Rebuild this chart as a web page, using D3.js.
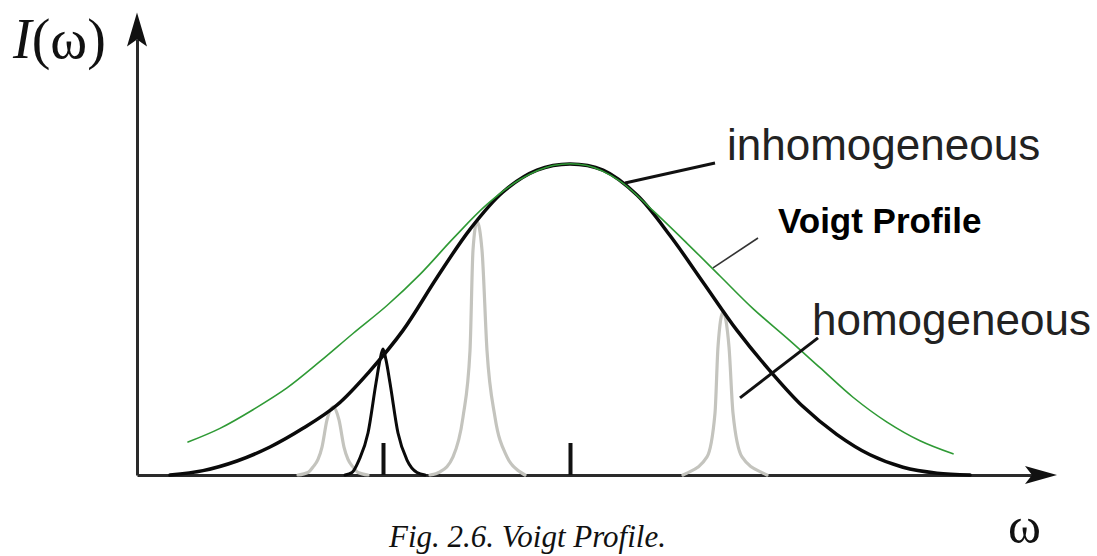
<!DOCTYPE html>
<html>
<head>
<meta charset="utf-8">
<script src="https://cdn.jsdelivr.net/npm/d3@7/dist/d3.min.js"></script>
<style>
body { margin: 0; background: #fff; }
.axis path.domain { stroke: #2a2a2a; stroke-width: 3; }
.x-axis .tick line { stroke: #111; stroke-width: 4; }
.arrow { fill: #111; }
.curve { fill: none; stroke-linejoin: round; stroke-linecap: round; }
.inhomogeneous { stroke: #0a0a0a; stroke-width: 3.5; }
.voigt { stroke: #2f9a35; stroke-width: 1.6; }
.lorentz-gray { stroke: #c4c4be; stroke-width: 3.2; }
.lorentz-black { stroke: #0a0a0a; stroke-width: 3; }
.leader { stroke: #111; stroke-width: 3; }
.leader.thin { stroke: #333; stroke-width: 1.6; }
.label { font-family: "Liberation Sans", Arial, sans-serif; font-size: 44px; fill: #222; }
.label.bold { font-weight: bold; font-size: 35px; fill: #000; }
.serif { font-family: "Liberation Serif", "Times New Roman", serif; fill: #111; }
</style>
</head>
<body>
<div id="chart"></div>
<script>
// omega offsets from line centre, intensity relative to peak
var inhomogeneous = [
  [-4.00, 0.000], [-3.67, 0.014], [-3.33, 0.045], [-3.00, 0.090], [-2.67, 0.150],
  [-2.33, 0.225], [-2.00, 0.335], [-1.67, 0.465], [-1.33, 0.635], [-1.00, 0.790],
  [-0.67, 0.910], [-0.33, 0.980], [0.00, 1.000], [0.33, 0.980], [0.67, 0.900],
  [1.00, 0.770], [1.33, 0.620], [1.67, 0.465], [2.00, 0.335], [2.33, 0.220],
  [2.67, 0.130], [3.00, 0.065], [3.33, 0.025], [3.67, 0.006], [4.00, 0.000]
];

var voigt = [
  [-3.82, 0.106], [-3.50, 0.150], [-3.17, 0.210], [-2.83, 0.280], [-2.50, 0.365],
  [-2.17, 0.455], [-1.83, 0.545], [-1.50, 0.645], [-1.17, 0.760], [-0.83, 0.870],
  [-0.50, 0.950], [-0.17, 0.995], [0.17, 0.995], [0.50, 0.945], [0.83, 0.850],
  [1.17, 0.745], [1.50, 0.640], [1.83, 0.535], [2.17, 0.440], [2.50, 0.345],
  [2.83, 0.250], [3.17, 0.170], [3.50, 0.110], [3.83, 0.068]
];

var lorentzA = [
  [-2.72, 0.000], [-2.62, 0.008], [-2.57, 0.026], [-2.52, 0.050], [-2.48, 0.090],
  [-2.43, 0.177], [-2.37, 0.219], [-2.31, 0.177], [-2.26, 0.090], [-2.22, 0.050],
  [-2.17, 0.026], [-2.12, 0.008], [-2.02, 0.000]
];

var lorentzB = [
  [-2.25, 0.000], [-2.18, 0.008], [-2.11, 0.048], [-2.02, 0.135], [-1.94, 0.296],
  [-1.90, 0.370], [-1.87, 0.405], [-1.84, 0.370], [-1.80, 0.296], [-1.72, 0.135],
  [-1.63, 0.048], [-1.53, 0.008], [-1.45, 0.000]
];

var lorentzC = [
  [-1.40, 0.000], [-1.30, 0.010], [-1.17, 0.058], [-1.07, 0.186], [-1.00, 0.400],
  [-0.97, 0.723], [-0.93, 0.815], [-0.88, 0.723], [-0.83, 0.400], [-0.75, 0.186],
  [-0.63, 0.058], [-0.50, 0.010], [-0.45, 0.000]
];

var lorentzD = [
  [1.13, 0.000], [1.17, 0.006], [1.37, 0.058], [1.45, 0.199], [1.48, 0.412],
  [1.53, 0.524], [1.59, 0.412], [1.63, 0.199], [1.72, 0.058], [1.93, 0.006],
  [1.97, 0.000]
];

var tickOmega = [-1.87, 0];

var labelText = ["inhomogeneous", "Voigt Profile", "homogeneous"];
var labelPos = [[1.57, 1.013], [2.08, 0.778], [2.42, 0.450]];
var leaderFrom = [[0.55, 0.939], [1.43, 0.666], [1.70, 0.248]];
var leaderTo = [[1.45, 1.003], [1.88, 0.762], [2.48, 0.441]];

var VoigtChart = function() {};

VoigtChart.prototype.create = function(el, options) {
    this.options = options;

    this.svg = d3.select(el).append('svg')
        .attr('width', options.width)
        .attr('height', options.height);

    this._setup();
    this._drawAxes();
    this._drawCurves();
    this._drawLabels();
    return this;
}

VoigtChart.prototype._setup = function() {
    this.x = d3.scaleLinear().domain([-4.33, 4.70]).range([137, 1040]);
    this.y = d3.scaleLinear().domain([0, 1.40]).range([475, 39.6]);
    var x = this.x, y = this.y;
    this.peakLine = d3.line()
        .x(function(d) { return x(d[0]); })
        .y(function(d) { return y(d[1]); })
        .curve(d3.curveMonotoneX);
    this.smoothLine = d3.line()
        .x(function(d) { return x(d[0]); })
        .y(function(d) { return y(d[1]); })
        .curve(d3.curveCatmullRom.alpha(0.5));
}

VoigtChart.prototype._drawAxes = function() {
    var x = this.x, y = this.y;

    var xAxis = d3.axisBottom(x)
        .tickValues(tickOmega)
        .tickSize(-32)
        .tickSizeOuter(0)
        .tickFormat('');
    var yAxis = d3.axisLeft(y).tickValues([]).tickSizeOuter(0);

    this.svg.append('g').attr('class', 'axis x-axis')
        .attr('transform', 'translate(0,' + y(0) + ')')
        .call(xAxis);
    this.svg.append('g').attr('class', 'axis y-axis')
        .attr('transform', 'translate(' + x.range()[0] + ',0)')
        .call(yAxis);

    // arrow heads at the open ends of both axes
    var ex = x.range()[1], ey = y(0);
    this.svg.append('path').attr('class', 'arrow')
        .attr('d', 'M' + (ex + 17) + ',' + ey + 'L' + (ex - 15) + ',' + (ey + 9) +
            'L' + (ex - 8) + ',' + ey + 'L' + (ex - 15) + ',' + (ey - 9) + 'Z');
    var tx = x.range()[0], ty = y.range()[1];
    this.svg.append('path').attr('class', 'arrow')
        .attr('d', 'M' + tx + ',' + (ty - 27) + 'L' + (tx + 10) + ',' + (ty + 7) +
            'L' + tx + ',' + ty + 'L' + (tx - 10) + ',' + (ty + 7) + 'Z');
}

VoigtChart.prototype._drawCurves = function() {
    var svg = this.svg, peakLine = this.peakLine;

    [lorentzA, lorentzC, lorentzD].forEach(function(pts) {
        svg.append('path').datum(pts)
            .attr('class', 'curve lorentz-gray')
            .attr('d', peakLine);
    });

    svg.append('path').datum(inhomogeneous)
        .attr('class', 'curve inhomogeneous')
        .attr('d', this.smoothLine);

    svg.append('path').datum(lorentzB)
        .attr('class', 'curve lorentz-black')
        .attr('d', peakLine);

    svg.append('path').datum(voigt)
        .attr('class', 'curve voigt')
        .attr('d', this.smoothLine);
}

VoigtChart.prototype._drawLabels = function() {
    var x = this.x, y = this.y, svg = this.svg;

    svg.selectAll('.leader')
        .data(leaderFrom)
        .enter().append('line')
        .attr('class', function(d, i) { return i == 1 ? 'leader thin' : 'leader'; })
        .attr('x1', function(d) { return x(d[0]); })
        .attr('y1', function(d) { return y(d[1]); })
        .attr('x2', function(d, i) { return x(leaderTo[i][0]); })
        .attr('y2', function(d, i) { return y(leaderTo[i][1]); });

    svg.selectAll('.label')
        .data(labelText)
        .enter().append('text')
        .attr('class', function(d, i) { return i == 1 ? 'label bold' : 'label'; })
        .attr('x', function(d, i) { return x(labelPos[i][0]); })
        .attr('y', function(d, i) { return y(labelPos[i][1]); })
        .text(function(d) { return d; });

    var yLabel = svg.append('text').attr('class', 'serif')
        .attr('x', 13).attr('y', 58)
        .style('font-size', '56px');
    yLabel.append('tspan').style('font-style', 'italic').text('I');
    yLabel.append('tspan').text('(ω)');

    svg.append('text').attr('class', 'serif')
        .attr('x', 1008).attr('y', 543)
        .style('font-size', '50px')
        .text('ω');

    svg.append('text').attr('class', 'serif')
        .attr('x', 389).attr('y', 547)
        .style('font-size', '31px')
        .style('font-style', 'italic')
        .text('Fig. 2.6. Voigt Profile.');
}

var chart = new VoigtChart().create('#chart', { width: 1097, height: 556 });
</script>
</body>
</html>
